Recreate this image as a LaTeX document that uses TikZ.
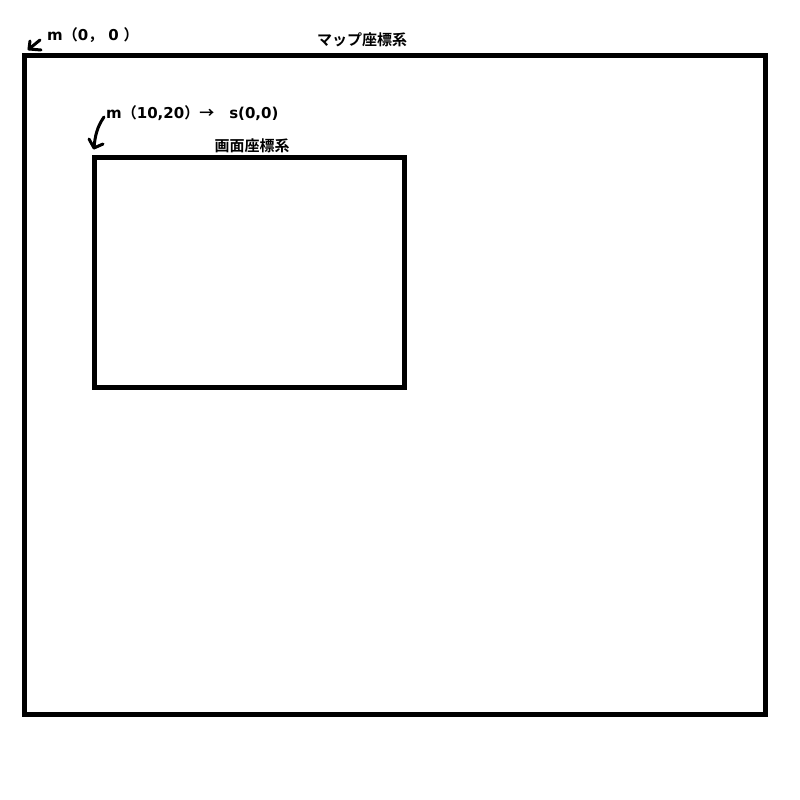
\documentclass[tikz,border=0pt]{standalone}
\usepackage{fontspec}
\setmainfont{Noto Sans CJK JP}[BoldFont={* Bold}]
\newfontfamily\latfont{DejaVu Sans}[BoldFont={* Bold}]
\newcommand{\lt}[1]{{\latfont\bfseries #1}}
\begin{document}
\begin{tikzpicture}[x=1pt,y=-1pt,
  frame/.style={draw=black,line width=5pt,outer sep=0pt,inner sep=0pt,anchor=north west},
  lbl/.style={font=\fontsize{15}{15}\selectfont\bfseries,inner sep=0pt},
  coord/.style={font=\fontsize{15}{15}\selectfont\bfseries,inner sep=0pt,anchor=west},
  hand/.style={draw=black,line width=3pt,line cap=round,line join=round}]
\useasboundingbox[fill=white] (0,0) rectangle (800,800);
\node[frame,minimum width=740.5pt,minimum height=659pt] (map) at (24.5,55.5) {};
\node[frame,minimum width=310pt,minimum height=230pt] (scr) at (94.5,157.5) {};
\node[lbl] (maplbl) at (362,40) {マップ座標系};
\node[lbl] (scrlbl) at (252,146) {画面座標系};
\node[coord] (m00) at (47,35) {\lt{m}（\lt{0}，\hspace{5pt}\lt{0}\hspace{5pt}）};
\node[coord] (m1020) at (106,113) {\lt{m}（\lt{10,20}）→　\lt{s(0,0)}};
% arrow 1
\coordinate (a1s) at (40,40);
\coordinate (a1t) at (29,49);
\coordinate (a1b1) at (30,41);
\coordinate (a1b2) at (41,50);
\draw[hand] (a1s) -- (a1t);
\draw[hand] (a1b1) -- (a1t) -- (a1b2);
% arrow 2
\coordinate (a2s) at (104,117);
\coordinate (a2t) at (94,148);
\coordinate (a2b1) at (89,139);
\coordinate (a2b2) at (103,144);
\draw[hand] (a2s) .. controls (97,127) and (95,136) .. (a2t);
\draw[hand] (a2b1) -- (a2t) -- (a2b2);
\end{tikzpicture}
\end{document}
